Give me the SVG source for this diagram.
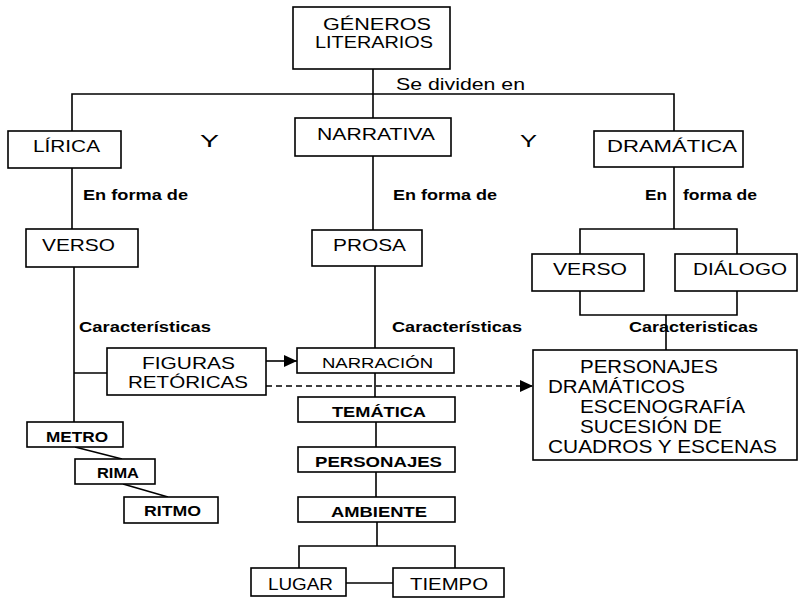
<svg xmlns="http://www.w3.org/2000/svg" width="799" height="604" viewBox="0 0 799 604">
<style>
  .box { fill: #fff; stroke: #000; stroke-width: 1.6; }
  .ln { fill: none; stroke: #000; stroke-width: 1.6; }
  .dash { fill: none; stroke: #000; stroke-width: 1.6; stroke-dasharray: 6 4; }
  text { font-family: "Liberation Sans", Arial, sans-serif; fill: #000; }
  .t16 { font-size: 16px; }
  .t17 { font-size: 17px; }
  .t15 { font-size: 15px; }
  .t18 { font-size: 18px; }
  .b15 { font-size: 15px; font-weight: bold; }
  .b14 { font-size: 14px; font-weight: bold; }
</style>
<defs>
  <marker id="arr" markerUnits="userSpaceOnUse" markerWidth="14" markerHeight="12" refX="13" refY="6" orient="auto">
    <path d="M0,0 L13,6 L0,12 Z" fill="#000"/>
  </marker>
</defs>
<rect width="799" height="604" fill="#fff"/>

<g id="connectors">
  <path class="ln" d="M373,69 V118"/>
  <path class="ln" d="M72,131 V94 H674 V131"/>
  <path class="ln" d="M72,168 V229"/>
  <path class="ln" d="M373,156 V230"/>
  <path class="ln" d="M674,167 V229"/>
  <path class="ln" d="M580,254 V229 H737 V254"/>
  <path class="ln" d="M580,291 V315 H737 V291"/>
  <path class="ln" d="M666,315 V350"/>
  <path class="ln" d="M74,267 V422"/>
  <path class="ln" d="M74,373 H107"/>
  <path class="ln" d="M375,266 V348"/>
  <path class="ln" d="M266,361 H297" marker-end="url(#arr)"/>
  <path class="dash" d="M266,386 H533" marker-end="url(#arr)"/>
  <path class="ln" d="M375,373 V397"/>
  <path class="ln" d="M376,422 V447"/>
  <path class="ln" d="M376,472 V497"/>
  <path class="ln" d="M377,522 V546"/>
  <path class="ln" d="M299,568 V546 H455 V568"/>
  <path class="ln" d="M346,583 H393"/>
  <path class="ln" d="M75,447 L122,459"/>
  <path class="ln" d="M123,484 L168,497"/>
</g>

<g id="labels">
  <text class="t17" x="396" y="90" textLength="129" lengthAdjust="spacingAndGlyphs">Se dividen en</text>
  <text class="t16" x="200" y="147" textLength="19" lengthAdjust="spacingAndGlyphs">Y</text>
  <text class="t16" x="520" y="147" textLength="17" lengthAdjust="spacingAndGlyphs">Y</text>
  <text class="b15" x="83" y="200" textLength="105" lengthAdjust="spacingAndGlyphs">En forma de</text>
  <text class="b15" x="393" y="200" textLength="104" lengthAdjust="spacingAndGlyphs">En forma de</text>
  <text class="b15" x="645" y="200" textLength="22" lengthAdjust="spacingAndGlyphs">En</text>
  <text class="b15" x="683" y="200" textLength="74" lengthAdjust="spacingAndGlyphs">forma de</text>
  <text class="b15" x="79" y="332" textLength="132" lengthAdjust="spacingAndGlyphs">Características</text>
  <text class="b15" x="392" y="332" textLength="130" lengthAdjust="spacingAndGlyphs">Características</text>
  <text class="b15" x="629" y="332" textLength="129" lengthAdjust="spacingAndGlyphs">Caracteristicas</text>
</g>

<g id="generos">
  <rect class="box" x="293" y="7" width="157" height="62"/>
  <text class="t16" x="323" y="30" textLength="108" lengthAdjust="spacingAndGlyphs">GÉNEROS</text>
  <text class="t16" x="315" y="48" textLength="118" lengthAdjust="spacingAndGlyphs">LITERARIOS</text>
</g>
<g id="lirica">
  <rect class="box" x="8" y="131" width="113" height="37"/>
  <text class="t17" x="33" y="152" textLength="67" lengthAdjust="spacingAndGlyphs">LÍRICA</text>
</g>
<g id="narrativa">
  <rect class="box" x="295" y="118" width="156" height="38"/>
  <text class="t17" x="317" y="140" textLength="118" lengthAdjust="spacingAndGlyphs">NARRATIVA</text>
</g>
<g id="dramatica">
  <rect class="box" x="594" y="131" width="149" height="36"/>
  <text class="t17" x="607" y="152" textLength="130" lengthAdjust="spacingAndGlyphs">DRAMÁTICA</text>
</g>
<g id="verso-lirica">
  <rect class="box" x="26" y="229" width="112" height="38"/>
  <text class="t17" x="42" y="251" textLength="73" lengthAdjust="spacingAndGlyphs">VERSO</text>
</g>
<g id="prosa">
  <rect class="box" x="312" y="230" width="110" height="36"/>
  <text class="t17" x="333" y="251" textLength="73" lengthAdjust="spacingAndGlyphs">PROSA</text>
</g>
<g id="verso-dramatica">
  <rect class="box" x="532" y="254" width="112" height="37"/>
  <text class="t17" x="553" y="275" textLength="74" lengthAdjust="spacingAndGlyphs">VERSO</text>
</g>
<g id="dialogo">
  <rect class="box" x="675" y="254" width="122" height="37"/>
  <text class="t17" x="693" y="275" textLength="94" lengthAdjust="spacingAndGlyphs">DIÁLOGO</text>
</g>
<g id="caracteristicas-drama">
  <rect class="box" x="533" y="350" width="264" height="110"/>
  <text class="t18" x="580" y="373" textLength="138" lengthAdjust="spacingAndGlyphs">PERSONAJES</text>
  <text class="t18" x="548" y="393" textLength="137" lengthAdjust="spacingAndGlyphs">DRAMÁTICOS</text>
  <text class="t18" x="580" y="413" textLength="165" lengthAdjust="spacingAndGlyphs">ESCENOGRAFÍA</text>
  <text class="t18" x="580" y="433" textLength="142" lengthAdjust="spacingAndGlyphs">SUCESIÓN DE</text>
  <text class="t18" x="548" y="453" textLength="229" lengthAdjust="spacingAndGlyphs">CUADROS Y ESCENAS</text>
</g>
<g id="figuras">
  <rect class="box" x="107" y="348" width="159" height="47"/>
  <text class="t17" x="142" y="369" textLength="93" lengthAdjust="spacingAndGlyphs">FIGURAS</text>
  <text class="t17" x="128" y="388" textLength="120" lengthAdjust="spacingAndGlyphs">RETÓRICAS</text>
</g>
<g id="narracion">
  <rect class="box" x="297" y="348" width="157" height="25"/>
  <text class="t15" x="322" y="368" textLength="111" lengthAdjust="spacingAndGlyphs">NARRACIÓN</text>
</g>
<g id="tematica">
  <rect class="box" x="298" y="397" width="157" height="25"/>
  <text class="b14" x="332" y="417" textLength="94" lengthAdjust="spacingAndGlyphs">TEMÁTICA</text>
</g>
<g id="personajes">
  <rect class="box" x="298" y="447" width="157" height="25"/>
  <text class="b14" x="315" y="467" textLength="127" lengthAdjust="spacingAndGlyphs">PERSONAJES</text>
</g>
<g id="ambiente">
  <rect class="box" x="298" y="497" width="157" height="25"/>
  <text class="b14" x="331" y="517" textLength="96" lengthAdjust="spacingAndGlyphs">AMBIENTE</text>
</g>
<g id="lugar">
  <rect class="box" x="251" y="568" width="95" height="28"/>
  <text class="t17" x="268" y="590" textLength="65" lengthAdjust="spacingAndGlyphs">LUGAR</text>
</g>
<g id="tiempo">
  <rect class="box" x="393" y="568" width="111" height="29"/>
  <text class="t17" x="410" y="590" textLength="78" lengthAdjust="spacingAndGlyphs">TIEMPO</text>
</g>
<g id="metro">
  <rect class="box" x="27" y="422" width="96" height="25"/>
  <text class="b14" x="46" y="442" textLength="62" lengthAdjust="spacingAndGlyphs">METRO</text>
</g>
<g id="rima">
  <rect class="box" x="75" y="459" width="80" height="25"/>
  <text class="b14" x="97" y="478" textLength="42" lengthAdjust="spacingAndGlyphs">RIMA</text>
</g>
<g id="ritmo">
  <rect class="box" x="124" y="497" width="94" height="26"/>
  <text class="b14" x="144" y="516" textLength="57" lengthAdjust="spacingAndGlyphs">RITMO</text>
</g>
</svg>
